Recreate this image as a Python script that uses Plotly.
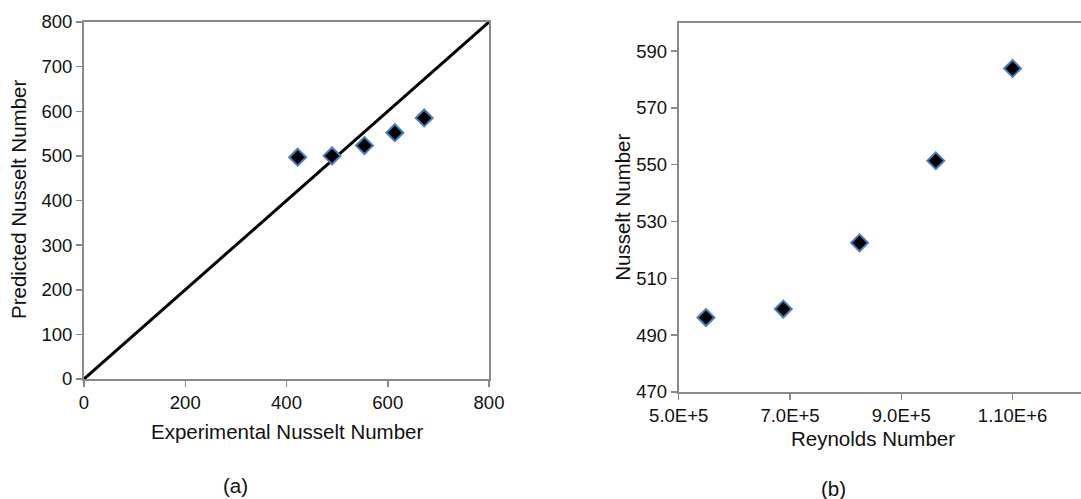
import plotly.graph_objects as go

# Panel (a) data
exp_nu = [422, 490, 554, 614, 672]
pred_nu = [497, 500, 523, 552, 585]
parity_x = [0, 800]
parity_y = [0, 800]

# Panel (b) data
reynolds = [549000, 688000, 825000, 962000, 1100000]
nusselt = [496.2, 499.2, 522.5, 551.4, 583.9]

a_ticks = [0, 200, 400, 600, 800]
a_yticks = [0, 100, 200, 300, 400, 500, 600, 700, 800]
b_xticks = [500000, 700000, 900000, 1100000]
b_xticklabels = ["5.0E+5", "7.0E+5", "9.0E+5", "1.10E+6"]
b_yticks = [470, 490, 510, 530, 550, 570, 590]

FONT = "Liberation Sans, Arial, sans-serif"
AXC = "#898989"
marker = dict(symbol="diamond", size=13, color="black",
              line=dict(color="#4A7EBB", width=2))

W, H = 1081, 499
fig = go.Figure()
fig.add_trace(go.Scatter(x=parity_x, y=parity_y, mode="lines",
                         line=dict(color="black", width=3),
                         xaxis="x", yaxis="y", hoverinfo="skip"))
fig.add_trace(go.Scatter(x=exp_nu, y=pred_nu, mode="markers", marker=marker,
                         xaxis="x", yaxis="y", cliponaxis=False))
fig.add_trace(go.Scatter(x=reynolds, y=nusselt, mode="markers", marker=marker,
                         xaxis="x2", yaxis="y2", cliponaxis=False))

def px_x(p):
    return p / W

def px_y(p):
    return 1 - p / H

common = dict(showgrid=False, zeroline=False, showline=True, linecolor=AXC,
              linewidth=2, ticks="outside", ticklen=6, tickwidth=1.5,
              tickcolor=AXC, automargin=False,
              tickfont=dict(family=FONT, size=18.5, color="#111"))

fig.update_layout(
    template="none",
    width=W, height=H, margin=dict(l=0, r=0, t=0, b=0, pad=0, autoexpand=False),
    paper_bgcolor="white", plot_bgcolor="white", showlegend=False,
    xaxis=dict(domain=[px_x(84), px_x(489)], range=[0, 800], tickvals=a_ticks,
               mirror=True, anchor="y", **common),
    yaxis=dict(domain=[px_y(379), px_y(22)], range=[0, 800], tickvals=a_yticks,
               mirror=True, anchor="x", **common),
    xaxis2=dict(domain=[px_x(678.7), 1.0], range=[500000, 1223000],
                tickvals=b_xticks, ticktext=b_xticklabels, mirror=True,
                anchor="y2", **common),
    yaxis2=dict(domain=[px_y(392), px_y(22.7)], range=[470, 600],
                tickvals=b_yticks, mirror=False, anchor="x2", **common),
)

ann_font = dict(family=FONT, size=20.5, color="#111")
anns = [
    ("Experimental Nusselt Number", 286.5, 431, 0),
    ("Predicted Nusselt Number", 19, 200, -90),
    ("Reynolds Number", 873, 438, 0),
    ("Nusselt Number", 621.7, 207, -90),
    ("(a)", 235, 485, 0),
    ("(b)", 833, 488, 0),
]
for text, x, y, ang in anns:
    fig.add_annotation(text=text, x=px_x(x), y=px_y(y), xref="paper", yref="paper",
                       showarrow=False, textangle=ang, font=ann_font,
                       xanchor="center", yanchor="middle")

fig.write_html("out.html", config={"displayModeBar": False, "staticPlot": True},
               post_script="document.body.style.margin='0';document.body.style.overflow='hidden';")
